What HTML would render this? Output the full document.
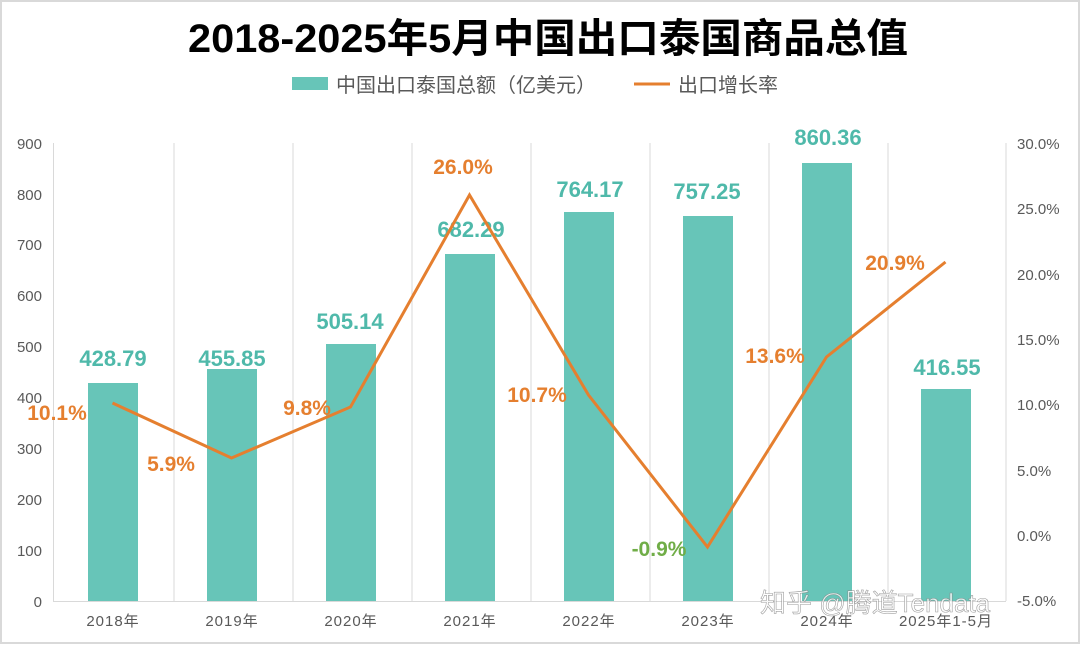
<!DOCTYPE html>
<html><head><meta charset="utf-8"><style>
html,body{margin:0;padding:0;background:#fff;}
svg{display:block;font-family:"Liberation Sans","Noto Sans CJK SC",sans-serif;}
</style></head><body>
<svg width="1080" height="647" viewBox="0 0 1080 647" xmlns="http://www.w3.org/2000/svg">
<rect x="0" y="0" width="1080" height="647" fill="#fff"/>
<rect x="1" y="1" width="1078" height="642" fill="none" stroke="#d9d9d9" stroke-width="2"/>
<text x="548" y="52" font-size="40" font-weight="bold" text-anchor="middle" fill="#000" textLength="720" lengthAdjust="spacingAndGlyphs">2018-2025年5月中国出口泰国商品总值</text>
<rect x="292" y="77" width="36" height="13" fill="#67c5b8"/>
<text x="336" y="92" font-size="20" fill="#595959">中国出口泰国总额（亿美元）</text>
<line x1="634" y1="84" x2="670" y2="84" stroke="#e57f2f" stroke-width="3"/>
<text x="678" y="92" font-size="20" fill="#595959">出口增长率</text>
<g stroke="#d9d9d9" stroke-width="1">
<line x1="53.5" y1="143" x2="53.5" y2="601"/>
<line x1="174" y1="143" x2="174" y2="601"/>
<line x1="293" y1="143" x2="293" y2="601"/>
<line x1="412" y1="143" x2="412" y2="601"/>
<line x1="531" y1="143" x2="531" y2="601"/>
<line x1="650" y1="143" x2="650" y2="601"/>
<line x1="769" y1="143" x2="769" y2="601"/>
<line x1="888" y1="143" x2="888" y2="601"/>
<line x1="1006" y1="143" x2="1006" y2="601"/>
<line x1="53" y1="601.5" x2="1006" y2="601.5"/>
</g>
<g font-size="15" fill="#595959" text-anchor="end">
<text x="42" y="149">900</text><text x="42" y="200">800</text><text x="42" y="250">700</text><text x="42" y="301">600</text><text x="42" y="352">500</text><text x="42" y="403">400</text><text x="42" y="454">300</text><text x="42" y="505">200</text><text x="42" y="556">100</text><text x="42" y="607">0</text>
</g>
<g font-size="15" fill="#595959">
<text x="1017" y="149">30.0%</text><text x="1017" y="214">25.0%</text><text x="1017" y="280">20.0%</text><text x="1017" y="345">15.0%</text><text x="1017" y="410">10.0%</text><text x="1017" y="476">5.0%</text><text x="1017" y="541">0.0%</text><text x="1017" y="606">-5.0%</text>
</g>
<g font-size="15" fill="#595959" text-anchor="middle" letter-spacing="1">
<text x="113" y="626">2018年</text><text x="232" y="626">2019年</text><text x="351" y="626">2020年</text><text x="470" y="626">2021年</text><text x="589" y="626">2022年</text><text x="708" y="626">2023年</text><text x="827" y="626">2024年</text><text x="946" y="626">2025年1-5月</text>
</g>
<g fill="#67c5b8">
<rect x="88" y="383" width="50" height="218"/>
<rect x="207" y="369" width="50" height="232"/>
<rect x="326" y="344" width="50" height="257"/>
<rect x="445" y="254" width="50" height="347"/>
<rect x="564" y="212" width="50" height="389"/>
<rect x="683" y="216" width="50" height="385"/>
<rect x="802" y="163" width="50" height="438"/>
<rect x="921" y="389" width="50" height="212"/>
</g>
<g font-size="22" font-weight="bold" fill="#4fb9aa" text-anchor="middle">
<text x="113" y="366">428.79</text><text x="232" y="366">455.85</text><text x="350" y="329">505.14</text><text x="471" y="237">682.29</text><text x="590" y="197">764.17</text><text x="707" y="199">757.25</text><text x="828" y="145">860.36</text><text x="947" y="375">416.55</text>
</g>
<polyline points="112.5,403 231.5,458 350.5,407 469.5,195 588.5,395 707.5,547 826.5,357 945.5,262" fill="none" stroke="#e57f2f" stroke-width="3"/>
<g font-size="21" font-weight="bold" fill="#e57f2f" text-anchor="middle">
<text x="57" y="420">10.1%</text><text x="171" y="471">5.9%</text><text x="307" y="415">9.8%</text><text x="463" y="174">26.0%</text><text x="537" y="402">10.7%</text><text x="659" y="556" fill="#70ad47">-0.9%</text><text x="775" y="363">13.6%</text><text x="895" y="270">20.9%</text>
</g>
<text x="760" y="612" font-size="26" fill="#ffffff" stroke="#888" stroke-width="0.6" opacity="0.8">知乎 @腾道Tendata</text>
</svg>
</body></html>
